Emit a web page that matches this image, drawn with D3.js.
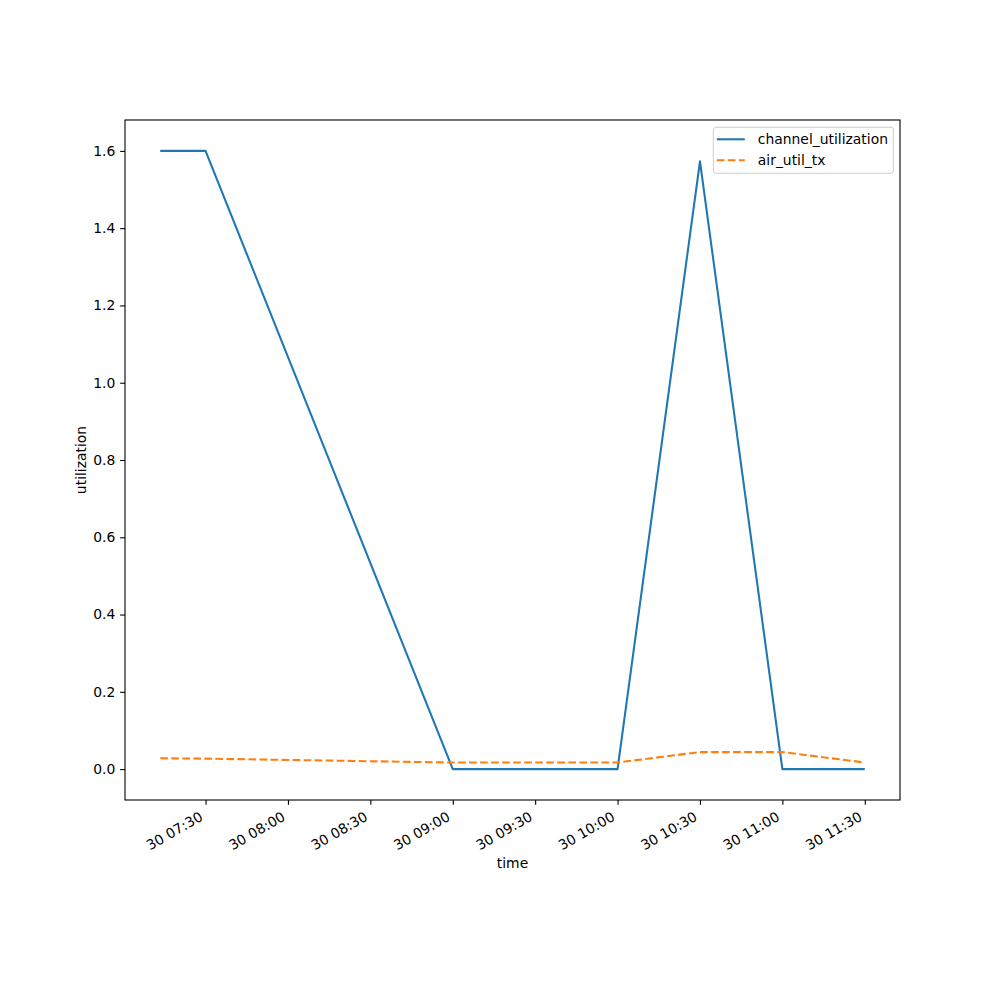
<!DOCTYPE html>
<html>
<head>
<meta charset="utf-8">
<script src="https://cdn.jsdelivr.net/npm/d3@7"></script>
<style>
  body { margin: 0; background: #fff; }
  text { font-family: 'DejaVu Sans', sans-serif; }
</style>
</head>
<body>
<div id="chart"></div>
<script>
// values
let times = [
  '2024-01-30 07:13:30',
  '2024-01-30 07:30:00',
  '2024-01-30 09:00:00',
  '2024-01-30 10:00:00',
  '2024-01-30 10:30:00',
  '2024-01-30 11:00:00',
  '2024-01-30 11:30:00'
]
let channelUtilization = [1.6, 1.6, 0, 0, 1.573, 0, 0]
let airUtilTx = [0.028, 0.027, 0.017, 0.017, 0.044, 0.044, 0.017]
let xTicks = [
  '2024-01-30 07:30:00',
  '2024-01-30 08:00:00',
  '2024-01-30 08:30:00',
  '2024-01-30 09:00:00',
  '2024-01-30 09:30:00',
  '2024-01-30 10:00:00',
  '2024-01-30 10:30:00',
  '2024-01-30 11:00:00',
  '2024-01-30 11:30:00'
]
let yTicks = [0, 0.2, 0.4, 0.6, 0.8, 1.0, 1.2, 1.4, 1.6]
let seriesNames = ['channel_utilization', 'air_util_tx']

let margin = { top: 120, left: 125, right: 100, bottom: 200 }
let width = 1000 - margin.left - margin.right
let height = 1000 - margin.top - margin.bottom

let parseTime = d3.utcParse('%Y-%m-%d %H:%M:%S')

let svg = d3
  .select('#chart')
  .append('svg')
  .attr('width', 1000)
  .attr('height', 1000)
  .append('g')
  .attr('transform', 'translate(' + margin.left + ',' + margin.top + ')')

let dates = times.map(parseTime)
let series = [
  { name: seriesNames[0], values: channelUtilization, color: '#1f77b4', dash: null },
  { name: seriesNames[1], values: airUtilTx, color: '#ff7f0e', dash: '7.7,3.33' }
]

// matplotlib style 5% margins
let xExtent = d3.extent(dates)
let xPad = (xExtent[1] - xExtent[0]) * 0.05
let xPositionScale = d3
  .scaleUtc()
  .domain([new Date(+xExtent[0] - xPad), new Date(+xExtent[1] + xPad)])
  .range([0, width])

let yMax = d3.max(channelUtilization)
let yPad = yMax * 0.05
let yPositionScale = d3
  .scaleLinear()
  .domain([0 - yPad, yMax + yPad])
  .range([height, 0])

let fontSize = 13.9
let tickLen = 4.86
let lineWidth = 2.08

// axes
let xAxis = d3
  .axisBottom(xPositionScale)
  .tickValues(xTicks.map(parseTime))
  .tickFormat(d3.utcFormat('%d %H:%M'))
  .tickSize(tickLen)
  .tickPadding(0)

let xg = svg
  .append('g')
  .attr('class', 'axis x-axis')
  .attr('transform', 'translate(0,' + height + ')')
  .call(xAxis)
xg.select('.domain').remove()
xg.selectAll('line').attr('stroke', '#000').attr('stroke-width', 1.1)
xg.selectAll('text')
  .attr('font-size', fontSize)
  .attr('fill', '#000')
  .attr('text-anchor', 'end')
  .attr('y', 0)
  .attr('transform', 'translate(-7.5,' + (tickLen + 5.5) + ') rotate(-30)')
  .attr('dy', '0.76em')

let yAxis = d3
  .axisLeft(yPositionScale)
  .tickValues(yTicks)
  .tickFormat(d3.format('.1f'))
  .tickSize(tickLen)
  .tickPadding(4.86)

let yg = svg
  .append('g')
  .attr('class', 'axis y-axis')
  .call(yAxis)
yg.select('.domain').remove()
yg.selectAll('line').attr('stroke', '#000').attr('stroke-width', 1.1)
yg.selectAll('text').attr('font-size', fontSize).attr('fill', '#000')

// lines
let line = d3
  .line()
  .x((d, i) => xPositionScale(dates[i]))
  .y(d => yPositionScale(d))

svg
  .selectAll('.series')
  .data(series)
  .enter()
  .append('path')
  .attr('class', 'series')
  .attr('d', d => line(d.values))
  .attr('fill', 'none')
  .attr('stroke', d => d.color)
  .attr('stroke-width', lineWidth)
  .attr('stroke-dasharray', d => d.dash)
  .attr('stroke-linejoin', 'round')

// frame
svg
  .append('rect')
  .attr('width', width)
  .attr('height', height)
  .attr('fill', 'none')
  .attr('stroke', '#000')
  .attr('stroke-width', 1.1)

// axis labels
svg
  .append('text')
  .attr('x', width / 2)
  .attr('y', 868 - margin.top)
  .attr('text-anchor', 'middle')
  .attr('font-size', fontSize)
  .text('time')

svg
  .append('text')
  .attr('transform', 'translate(' + (86 - margin.left) + ',' + height / 2 + ') rotate(-90)')
  .attr('text-anchor', 'middle')
  .attr('font-size', fontSize)
  .text('utilization')

// legend
let legend = svg
  .append('g')
  .attr('transform', 'translate(' + (713.3 - margin.left) + ',' + (127.3 - margin.top) + ')')

legend
  .append('rect')
  .attr('width', 180)
  .attr('height', 46)
  .attr('rx', 2.5)
  .attr('fill', '#fff')
  .attr('fill-opacity', 0.8)
  .attr('stroke', '#ccc')
  .attr('stroke-width', 1)

let items = legend
  .selectAll('.legend-item')
  .data(series)
  .enter()
  .append('g')
  .attr('class', 'legend-item')
  .attr('transform', (d, i) => 'translate(0,' + (12 + i * 21) + ')')

items
  .append('line')
  .attr('x1', 3.5)
  .attr('x2', 31.5)
  .attr('stroke', d => d.color)
  .attr('stroke-width', lineWidth)
  .attr('stroke-dasharray', d => d.dash)

items
  .append('text')
  .attr('x', 44.5)
  .attr('dy', '0.36em')
  .attr('font-size', fontSize)
  .text(d => d.name)
</script>
</body>
</html>
